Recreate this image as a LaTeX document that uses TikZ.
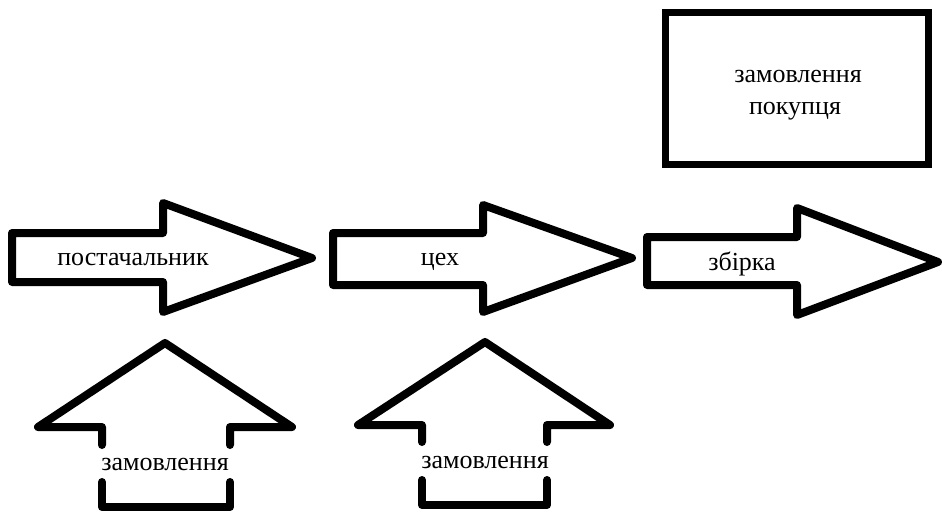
\documentclass[tikz,border=0pt]{standalone}
\usepackage{fontspec}
\setmainfont{Liberation Serif}
\begin{document}
\begin{tikzpicture}[x=1pt,y=-1pt,
  shapeline/.style={line width=8pt,line join=round,line cap=round},
  lbl/.style={font=\fontsize{26}{32}\selectfont,inner sep=0pt,anchor=base}]
\useasboundingbox (0,0) rectangle (942,513);
% right arrows
\draw[shapeline] (12,233) -- (163,233) -- (163,203) -- (312,258) -- (163,312) -- (163,282) -- (12,282) -- cycle;
\draw[shapeline] (333,233) -- (483,233) -- (483,205) -- (632,258) -- (483,312) -- (483,285) -- (333,285) -- cycle;
\draw[shapeline] (647,237) -- (797,237) -- (797,208) -- (938,262) -- (797,315) -- (797,285) -- (647,285) -- cycle;
% up arrows
\draw[shapeline] (102,445) -- (102,427) -- (38,427) -- (165,343) -- (292,427) -- (230,427) -- (230,445);
\draw[shapeline] (102,482) -- (102,507) -- (230,507) -- (230,482);
\draw[shapeline] (422,442) -- (422,425) -- (358,425) -- (485,342) -- (610,425) -- (547,425) -- (547,442);
\draw[shapeline] (422,480) -- (422,505) -- (547,505) -- (547,480);
% box
\draw[line width=7pt] (665,13) rectangle (928,165);
% labels
\node[lbl] (p) at (133,265) {постачальник};
\node[lbl] (c) at (440,265) {цех};
\node[lbl] (z) at (742,270) {збірка};
\node[lbl] (o1) at (165,470) {замовлення};
\node[lbl] (o2) at (485,468) {замовлення};
\node[lbl] (zp1) at (798,83) {замовлення};
\node[lbl] (zp2) at (795,115) {покупця};
\end{tikzpicture}
\end{document}
